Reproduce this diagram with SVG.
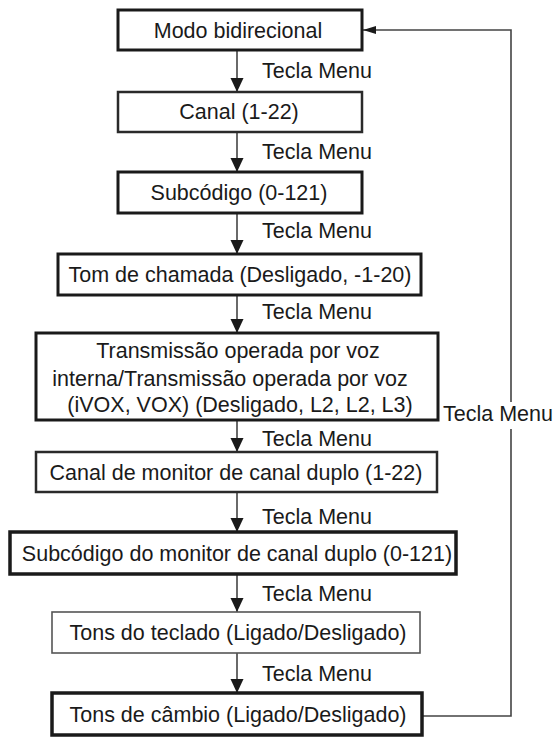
<svg xmlns="http://www.w3.org/2000/svg" width="557" height="740" viewBox="0 0 557 740">
<style>
text{font-family:"Liberation Sans",Arial,sans-serif;font-size:21.5px;fill:#1a1a1a}
.c{text-anchor:middle}
.box{fill:#fff;stroke:#1a1a1a;stroke-width:3}
.mid{fill:#fff;stroke:#2a2a2a;stroke-width:2.5}
.thin{fill:#fff;stroke:#555;stroke-width:1.6}
.ln{fill:none;stroke:#444;stroke-width:1.6}
</style>
<defs>
<marker id="ah" markerUnits="userSpaceOnUse" markerWidth="14" markerHeight="14" refX="14" refY="7" orient="auto">
<path d="M0,0.5 L14,7 L0,13.5 z" fill="#1a1a1a"/>
</marker>
<marker id="ahs" markerUnits="userSpaceOnUse" markerWidth="14" markerHeight="10" refX="13" refY="5" orient="auto">
<path d="M0,1 L13,5 L0,9 z" fill="#1a1a1a"/>
</marker>
</defs>
<rect width="557" height="740" fill="#fff"/>
<g id="connectors">
<line class="ln" x1="237" y1="50" x2="237" y2="92" marker-end="url(#ah)"/>
<line class="ln" x1="237" y1="132" x2="237" y2="172" marker-end="url(#ah)"/>
<line class="ln" x1="237" y1="213" x2="237" y2="254" marker-end="url(#ah)"/>
<line class="ln" x1="237" y1="295" x2="237" y2="333" marker-end="url(#ah)"/>
<line class="ln" x1="237" y1="420" x2="237" y2="452" marker-end="url(#ah)"/>
<line class="ln" x1="237" y1="492" x2="237" y2="532" marker-end="url(#ah)"/>
<line class="ln" x1="237" y1="574" x2="237" y2="612" marker-end="url(#ah)"/>
<line class="ln" x1="237" y1="653" x2="237" y2="693" marker-end="url(#ah)"/>
<path class="ln" d="M422,716 H511 V429 M511,402 V30 H363" marker-end="url(#ahs)"/>
<text x="262" y="78">Tecla Menu</text>
<text x="262" y="159">Tecla Menu</text>
<text x="262" y="238">Tecla Menu</text>
<text x="262" y="319">Tecla Menu</text>
<text x="262" y="446">Tecla Menu</text>
<text x="262" y="524">Tecla Menu</text>
<text x="262" y="601">Tecla Menu</text>
<text x="262" y="681">Tecla Menu</text>
<text x="443" y="421">Tecla Menu</text>
</g>
<g id="n1"><rect class="box" x="118" y="10" width="244" height="40"/><text class="c" x="238" y="37.5">Modo bidirecional</text></g>
<g id="n2"><rect class="mid" x="118" y="92" width="244" height="40"/><text class="c" x="239" y="119">Canal (1-22)</text></g>
<g id="n3"><rect class="box" x="118" y="172" width="244" height="41"/><text class="c" x="239" y="200">Subcódigo (0-121)</text></g>
<g id="n4"><rect class="box" x="58" y="254" width="363" height="41"/><text class="c" x="240" y="282">Tom de chamada (Desligado, -1-20)</text></g>
<g id="n5"><rect class="box" x="36" y="333" width="402" height="87"/>
<text class="c" x="238" y="358">Transmissão operada por voz</text>
<text class="c" x="230" y="386">interna/Transmissão operada por voz</text>
<text class="c" x="240" y="412">(iVOX, VOX) (Desligado, L2, L2, L3)</text></g>
<g id="n6"><rect class="mid" x="36" y="452" width="401" height="40"/><text class="c" x="236" y="480">Canal de monitor de canal duplo (1-22)</text></g>
<g id="n7"><rect class="box" x="10" y="532" width="446" height="42" style="stroke-width:3.5"/><text class="c" x="237" y="561">Subcódigo do monitor de canal duplo (0-121)</text></g>
<g id="n8"><rect class="thin" x="52" y="612" width="368" height="41"/><text class="c" x="238" y="640">Tons do teclado (Ligado/Desligado)</text></g>
<g id="n9"><rect class="box" x="52" y="693" width="370" height="42" style="stroke-width:3.5"/><text class="c" x="238" y="721.5">Tons de câmbio (Ligado/Desligado)</text></g>
</svg>
